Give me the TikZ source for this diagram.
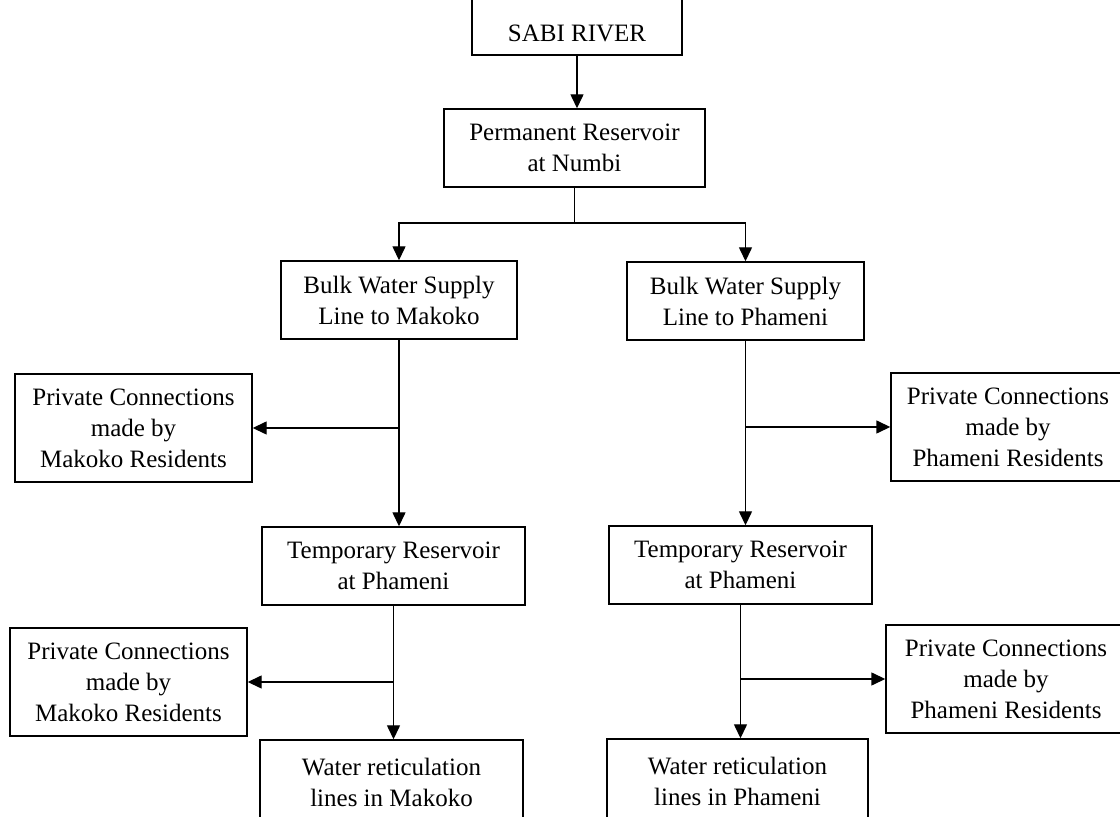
\documentclass[tikz,border=0pt]{standalone}
\usepackage{fontspec}
\setmainfont{Liberation Serif}
\usetikzlibrary{arrows.meta,positioning}

\begin{document}
\begin{tikzpicture}[x=0.5pt,y=-0.5pt,>={Triangle[length=7pt,width=6.5pt]},line width=0.7pt,
	block/.style={draw,align=center,inner sep=0pt,font=\fontsize{12.5}{15.5}\selectfont,minimum height=39pt},
	side/.style={block,minimum height=54pt}]
	\clip (0,0) rectangle (1120,817);
	% main line
	\node[block,minimum width=105pt,minimum height=45pt] (sabi) at (577,10) {};
	\node[font=\fontsize{12.5}{15.5}\selectfont,inner sep=0pt] (sabiText) at (577,33) {SABI RIVER};
	\node[block,minimum width=130.5pt] (perm) at (574.5,148) {Permanent Reservoir\\at Numbi};
	\coordinate (split) at (574.5,223);
	% Makoko branch
	\node[block,minimum width=118pt] (bulkM) at (399,300) {Bulk Water Supply\\Line to Makoko};
	\node[side,minimum width=118.5pt] (privM1) at (133.5,428) {Private Connections\\made by\\Makoko Residents};
	\node[block,minimum width=131.5pt] (tempM) at (393.5,566) {Temporary Reservoir\\at Phameni};
	\node[side,minimum width=118.5pt] (privM2) at (128.5,682) {Private Connections\\made by\\Makoko Residents};
	\node[block,minimum width=131.5pt,minimum height=42pt] (waterM) at (391.5,782) {Water reticulation\\lines in Makoko};
	% Phameni branch
	\node[block,minimum width=118.5pt] (bulkP) at (745.5,301) {Bulk Water Supply\\Line to Phameni};
	\node[side,minimum width=117pt] (privP1) at (1008,427) {Private Connections\\made by\\Phameni Residents};
	\node[block,minimum width=131.5pt] (tempP) at (740.5,565) {Temporary Reservoir\\at Phameni};
	\node[side,minimum width=120pt] (privP2) at (1006,679) {Private Connections\\made by\\Phameni Residents};
	\node[block,minimum width=130.5pt,minimum height=42pt] (waterP) at (737.5,781) {Water reticulation\\lines in Phameni};
	% branch points
	\coordinate (jM1) at (bulkM.south |- privM1.east);
	\coordinate (jM2) at (tempM.south |- privM2.east);
	\coordinate (jP1) at (bulkP.south |- privP1.west);
	\coordinate (jP2) at (tempP.south |- privP2.west);
	\draw[->] (sabi.south) -- (sabi.south |- perm.north);
	\draw (perm) -- (split);
	\draw[->] (split) -| (bulkM);
	\draw[->] (split) -| (bulkP);
	\draw (bulkM) -- (jM1);
	\draw[->] (jM1) -- (privM1);
	\draw[->] (jM1) -- (jM1 |- tempM.north);
	\draw (tempM) -- (jM2);
	\draw[->] (jM2) -- (privM2);
	\draw[->] (jM2) -- (jM2 |- waterM.north);
	\draw (bulkP) -- (jP1);
	\draw[->] (jP1) -- (privP1);
	\draw[->] (jP1) -- (jP1 |- tempP.north);
	\draw (tempP) -- (jP2);
	\draw[->] (jP2) -- (privP2);
	\draw[->] (jP2) -- (jP2 |- waterP.north);
\end{tikzpicture}
\end{document}
